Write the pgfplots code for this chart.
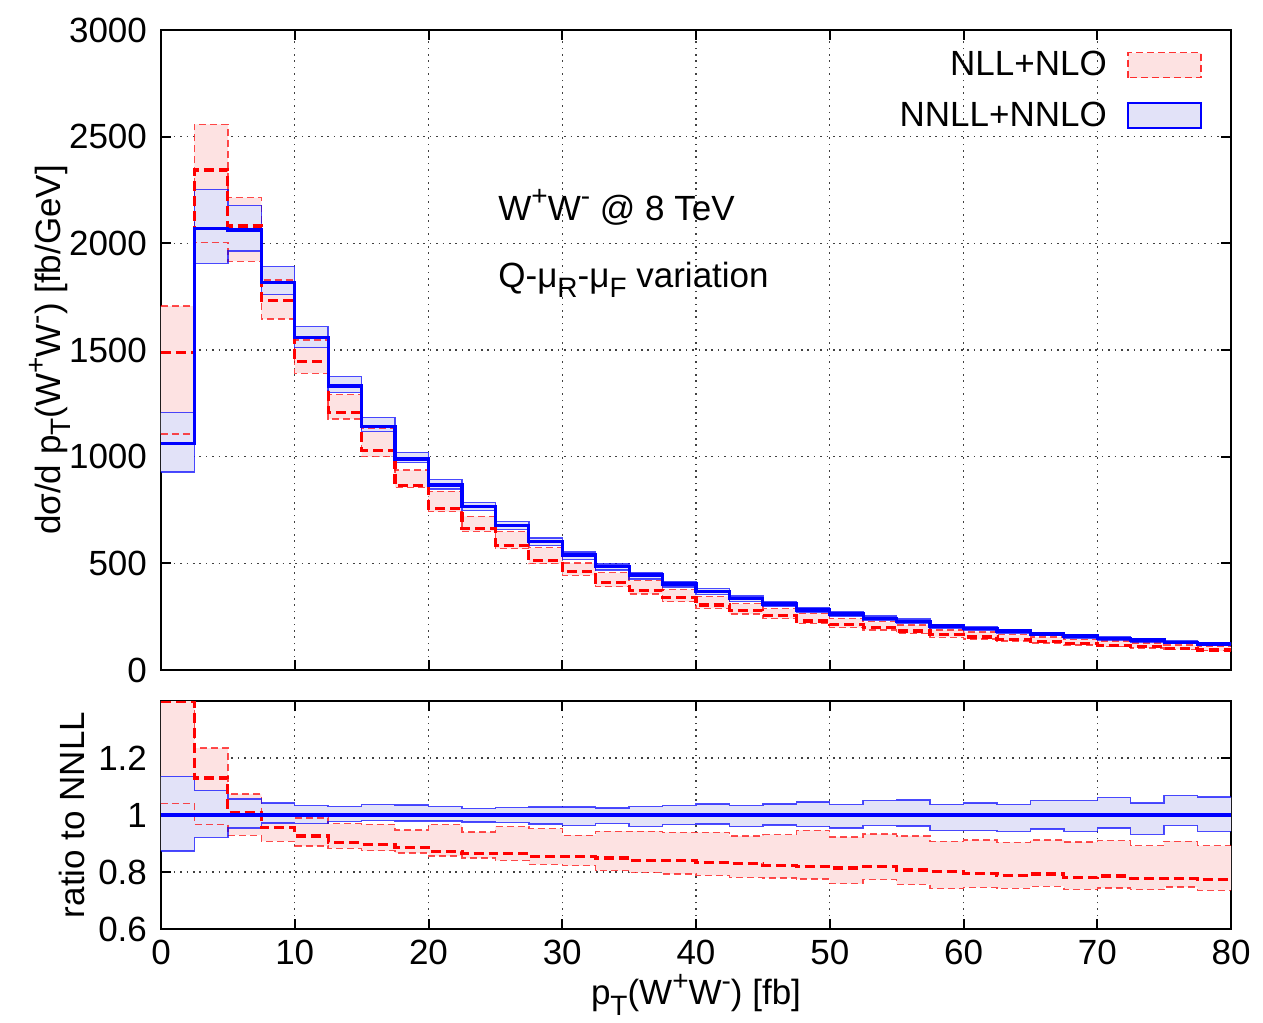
\documentclass[border=0pt]{standalone}
\usepackage{fontspec}
\setmainfont{Liberation Sans}
\usepackage{pgfplots}
\pgfplotsset{compat=1.18}
\usepackage{pgfplotstable}
\usepgfplotslibrary{fillbetween}

\definecolor{pinkfill}{RGB}{253,226,226}
\definecolor{lavfill}{RGB}{226,226,248}
\definecolor{redline}{RGB}{255,0,0}
\definecolor{blueline}{RGB}{0,0,255}

\newcommand\fs{\fontsize{17.5}{21}\selectfont}
\newcommand\sps[1]{\raisebox{0.42em}{\fontsize{14}{14}\selectfont #1}}
\newcommand\sbs[1]{\raisebox{-0.3em}{\fontsize{14}{14}\selectfont #1}}

\pgfplotstableread{
x    ru   rc   rl   bu   bc   bl
0    1706 1490 1106 1206 1063 928
2.5  2558 2344 2003 2253 2070 1906
5    2214 2081 1916 2178 2062 1964
7.5  1828 1733 1645 1891 1816 1761
10   1547 1445 1391 1609 1559 1512
12.5 1292 1206 1177 1375 1331 1302
15   1133 1028 1000 1184 1140 1117
17.5 937  864  856  1020 989  973
20   838  757  742  892  867  849
22.5 720  663  650  784  766  747
25   649  585  569  695  677  659
27.5 573  514  498  619  602  583
30   501  460  443  554  539  519
32.5 456  411  390  496  484  469
35   420  374  356  458  445  427
37.5 378  339  320  416  403  389
40   345  305  289  381  367  355
42.5 311  279  262  347  336  322
45   288  254  241  321  309  298
47.5 266  230  218  294  281  270
50   242  213  199  271  262  250
52.5 226  198  187  254  242  233
55   210  183  172  239  227  218
57.5 187  165  153  214  206  195
60   178  155  145  203  195  184
62.5 165  144  136  190  183  173
65   154  134  127  177  169  161
67.5 144  124  118  167  159  150
70   135  116  110  157  148  141
72.5 126  110  104  147  141  131
75   118  101  97   139  130  125
77.5 109  94   90   130  122  115
80   109  94   90   130  122  115
}\topdata

\pgfplotstableread{
x    ru    rc    rl    bu    bl
0    1.600 1.400 1.040 1.136 0.873
2.5  1.235 1.130 0.966 1.087 0.922
5    1.074 1.009 0.929 1.056 0.954
7.5  1.005 0.956 0.908 1.042 0.972
10   0.989 0.926 0.891 1.033 0.970
12.5 0.970 0.903 0.883 1.030 0.978
15   0.967 0.897 0.875 1.037 0.981
17.5 0.947 0.887 0.867 1.035 0.979
20   0.966 0.873 0.856 1.029 0.979
22.5 0.940 0.865 0.849 1.023 0.975
25   0.959 0.864 0.841 1.026 0.973
27.5 0.952 0.854 0.827 1.028 0.968
30   0.929 0.853 0.822 1.028 0.963
32.5 0.943 0.849 0.805 1.025 0.970
35   0.943 0.840 0.799 1.029 0.960
37.5 0.939 0.841 0.793 1.033 0.966
40   0.939 0.832 0.788 1.039 0.968
42.5 0.926 0.829 0.781 1.033 0.959
45   0.931 0.823 0.779 1.039 0.965
47.5 0.946 0.818 0.775 1.046 0.960
50   0.923 0.814 0.759 1.036 0.954
52.5 0.933 0.820 0.773 1.050 0.964
55   0.927 0.807 0.757 1.053 0.961
57.5 0.908 0.802 0.742 1.037 0.946
60   0.912 0.796 0.746 1.042 0.945
62.5 0.904 0.788 0.743 1.036 0.943
65   0.912 0.793 0.750 1.050 0.951
67.5 0.905 0.781 0.739 1.050 0.943
70   0.910 0.786 0.744 1.061 0.954
72.5 0.892 0.778 0.738 1.042 0.932
75   0.908 0.777 0.747 1.069 0.963
77.5 0.892 0.773 0.736 1.063 0.943
80   0.892 0.773 0.736 1.063 0.943
}\ratiodata

\pgfplotsset{
  myaxis/.style={
    scale only axis, width=535pt,
    xmin=0, xmax=80, xtick={0,10,...,80},
    axis line style={line width=1pt},
    every tick/.style={line width=1pt, black},
    major tick length=5pt,
    tick align=inside,
    xmajorgrids, ymajorgrids,
    major grid style={dash pattern=on 0.8pt off 2.4pt, line width=0.7pt, black!75},
    tick label style={font=\fs},
    label style={font=\fs},
    /pgf/number format/assume math mode=true,
    /pgf/number format/1000 sep={},
    xticklabel style={yshift=-2pt},
    yticklabel style={xshift=-3.5pt},
  },
  redc/.style={const plot, redline, line width=1.6pt, dash pattern=on 5pt off 2.5pt},
  rede/.style={const plot, redline, draw opacity=0.7, line width=0.7pt, dash pattern=on 3.5pt off 2pt},
  bluec/.style={const plot, blueline, line width=1.6pt},
  bluee/.style={const plot, blueline, draw opacity=0.7, line width=0.7pt},
}

\begin{document}
\begin{tikzpicture}
\path (-80.5pt,-42pt) rectangle (551pt,464.5pt);

% ratio panel
\begin{axis}[myaxis, at={(0pt,0pt)}, anchor=south west, height=114pt,
  ymin=0.6, ymax=1.4, ytick={0.6,0.8,1,1.2},
  xlabel={p\sbs{T}(W\sps{+}W\sps{-}) [fb]},
  xlabel style={at={(axis description cs:0.5,0)}, anchor=base, yshift=-38pt},
  ylabel={ratio to NNLL},
  ylabel style={at={(axis description cs:-0.0836,0.5)}, anchor=center},
]
\addplot[name path=RU, const plot, draw=none, forget plot] table[x=x,y=ru]{\ratiodata};
\addplot[name path=RL, const plot, draw=none, forget plot] table[x=x,y=rl]{\ratiodata};
\addplot[pinkfill, forget plot] fill between[of=RU and RL];
\addplot[name path=BU, const plot, draw=none, forget plot] table[x=x,y=bu]{\ratiodata};
\addplot[name path=BL, const plot, draw=none, forget plot] table[x=x,y=bl]{\ratiodata};
\addplot[lavfill, forget plot] fill between[of=BU and BL];
\addplot[rede, forget plot] table[x=x,y=ru]{\ratiodata};
\addplot[rede, forget plot] table[x=x,y=rl]{\ratiodata};
\addplot[bluee, forget plot] table[x=x,y=bu]{\ratiodata};
\addplot[bluee, forget plot] table[x=x,y=bl]{\ratiodata};
\addplot[redc, forget plot] table[x=x,y=rc]{\ratiodata};
\addplot[bluec, forget plot] coordinates {(0,1) (80,1)};
\end{axis}

% main panel
\begin{axis}[myaxis, at={(0pt,129.5pt)}, anchor=south west, height=320pt,
  ymin=0, ymax=3000, ytick={0,500,...,3000},
  xticklabels={},
  ylabel={dσ/d p\sbs{T}(W\sps{+}W\sps{-}) [fb/GeV]},
  ylabel style={at={(axis description cs:-0.1037,0.5)}, anchor=center},
  legend style={at={(axis description cs:1,1)}, anchor=north east,
    xshift=-14.5pt, yshift=-8.5pt, draw=none, fill=none, font=\fs,
    row sep=7.5pt, inner sep=0pt},
  legend cell align=right,
  legend plot pos=right,
]
\addplot[name path=RU, const plot, draw=none, forget plot] table[x=x,y=ru]{\topdata};
\addplot[name path=RL, const plot, draw=none, forget plot] table[x=x,y=rl]{\topdata};
\addplot[pinkfill, forget plot] fill between[of=RU and RL];
\addplot[name path=BU, const plot, draw=none, forget plot] table[x=x,y=bu]{\topdata};
\addplot[name path=BL, const plot, draw=none, forget plot] table[x=x,y=bl]{\topdata};
\addplot[lavfill, forget plot] fill between[of=BU and BL];
\addplot[rede, forget plot] table[x=x,y=ru]{\topdata};
\addplot[rede, forget plot] table[x=x,y=rl]{\topdata};
\addplot[bluee, forget plot] table[x=x,y=bu]{\topdata};
\addplot[bluee, forget plot] table[x=x,y=bl]{\topdata};
\addplot[redc, forget plot] table[x=x,y=rc]{\topdata};
\addplot[bluec, forget plot] table[x=x,y=bc]{\topdata};

\addlegendimage{legend image code/.code={\path[draw=none,fill=none] (0pt,0pt) -- (8.5pt,0pt); \draw[redline, draw opacity=0.8, line width=0.8pt, dash pattern=on 3.5pt off 2pt, fill=pinkfill] (8.5pt,-6.25pt) rectangle (45pt,6.25pt);}}
\addlegendentry{NLL+NLO}
\addlegendimage{legend image code/.code={\path[draw=none,fill=none] (0pt,0pt) -- (8.5pt,0pt); \draw[blueline, line width=0.8pt, fill=lavfill] (8.5pt,-6.25pt) rectangle (45pt,6.25pt);}}
\addlegendentry{NNLL+NNLO}

\node[anchor=base west, inner sep=0pt, font=\fs] at (axis cs:25.2,2109) {W\sps{+}W\sps{-} @ 8 TeV};
\node[anchor=base west, inner sep=0pt, font=\fs] at (axis cs:25.2,1795) {Q-μ\sbs{R}-μ\sbs{F} variation};
\end{axis}
\end{tikzpicture}
\end{document}
